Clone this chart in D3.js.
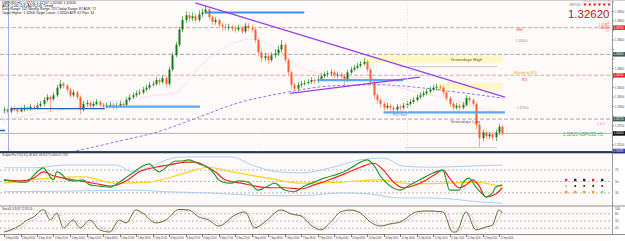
<!DOCTYPE html>
<html><head><meta charset="utf-8">
<script src="https://cdn.jsdelivr.net/npm/d3@7"></script>
<style>html,body{margin:0;padding:0;background:#fff;overflow:hidden}svg{display:block}</style>
</head><body><svg id="c" width="625" height="241"></svg>
<script>
// ---------------- DATA ----------------
const opens=[1.3286,
1.3287,1.3285,1.3288,1.3287,1.3285,1.3287,1.3289,1.3288,1.3290,
1.3289,1.3291,1.3293,1.3297,1.3300,1.3298,1.3302,1.3310,1.3314,1.3312,
1.3308,1.3302,1.3305,1.3300,1.3287,1.3293,1.3294,1.3291,1.3293,1.3295,
1.3292,1.3290,1.3291,1.3292,1.3290,1.3291,1.3293,1.3292,1.3297,1.3300,
1.3302,1.3304,1.3305,1.3308,1.3310,1.3313,1.3314,1.3318,1.3316,1.3320,
1.3314,1.3329,1.3344,1.3355,1.3371,1.3381,1.3386,1.3383,1.3385,1.3381,
1.3387,1.3389,1.3392,1.3384,1.3379,1.3381,1.3376,1.3374,1.3373,1.3374,
1.3372,1.3371,1.3373,1.3369,1.3375,1.3373,1.3371,1.3360,1.3347,1.3341,
1.3343,1.3339,1.3344,1.3346,1.3350,1.3355,1.3339,1.3326,1.3313,1.3309,
1.3313,1.3314,1.3315,1.3316,1.3318,1.3317,1.3319,1.3322,1.3324,1.3325,
1.3326,1.3323,1.3324,1.3322,1.3318,1.3326,1.3329,1.3331,1.3333,1.3335,
1.3337,1.3329,1.3316,1.3302,1.3297,1.3293,1.3289,1.3291,1.3289,1.3287,
1.3290,1.3289,1.3291,1.3293,1.3295,1.3297,1.3300,1.3302,1.3304,1.3306,
1.3308,1.3310,1.3311,1.3310,1.3305,1.3299,1.3293,1.3289,1.3291,1.3289,
1.3292,1.3299,1.3297,1.3293,1.3271,1.3257,1.3263,1.3259,1.3261,1.3258,
1.3263,1.3269];
const closes=[
1.3287,1.3285,1.3288,1.3287,1.3285,1.3287,1.3289,1.3288,1.3290,1.3289,
1.3291,1.3293,1.3297,1.3300,1.3298,1.3302,1.3310,1.3314,1.3312,1.3308,
1.3302,1.3305,1.3300,1.3287,1.3293,1.3294,1.3291,1.3293,1.3295,1.3292,
1.3290,1.3291,1.3292,1.3290,1.3291,1.3293,1.3292,1.3297,1.3300,1.3302,
1.3304,1.3305,1.3308,1.3310,1.3313,1.3314,1.3318,1.3316,1.3320,1.3314,
1.3329,1.3344,1.3355,1.3371,1.3381,1.3386,1.3383,1.3385,1.3381,1.3387,
1.3389,1.3392,1.3384,1.3379,1.3381,1.3376,1.3374,1.3373,1.3374,1.3372,
1.3371,1.3373,1.3369,1.3375,1.3373,1.3371,1.3360,1.3347,1.3341,1.3343,
1.3339,1.3344,1.3346,1.3350,1.3355,1.3339,1.3326,1.3313,1.3309,1.3313,
1.3314,1.3315,1.3316,1.3318,1.3317,1.3319,1.3322,1.3324,1.3325,1.3326,
1.3323,1.3324,1.3322,1.3318,1.3326,1.3329,1.3331,1.3333,1.3335,1.3337,
1.3329,1.3316,1.3302,1.3297,1.3293,1.3289,1.3291,1.3289,1.3287,1.3290,
1.3289,1.3291,1.3293,1.3295,1.3297,1.3300,1.3302,1.3304,1.3306,1.3308,
1.3310,1.3311,1.3310,1.3305,1.3299,1.3293,1.3289,1.3291,1.3289,1.3292,
1.3299,1.3297,1.3293,1.3271,1.3257,1.3263,1.3259,1.3261,1.3258,1.3263,
1.3269,1.3262];
const highs=[
1.3290,1.3289,1.3290,1.3291,1.3289,1.3290,1.3292,1.3291,1.3293,1.3292,
1.3294,1.3296,1.3300,1.3303,1.3302,1.3305,1.3313,1.3318,1.3316,1.3314,
1.3310,1.3308,1.3307,1.3302,1.3296,1.3297,1.3296,1.3296,1.3298,1.3297,
1.3294,1.3294,1.3295,1.3294,1.3294,1.3296,1.3295,1.3300,1.3303,1.3305,
1.3307,1.3308,1.3311,1.3313,1.3316,1.3317,1.3321,1.3320,1.3323,1.3322,
1.3332,1.3347,1.3358,1.3374,1.3385,1.3390,1.3389,1.3389,1.3388,1.3391,
1.3393,1.3396,1.3394,1.3386,1.3384,1.3383,1.3378,1.3377,1.3377,1.3376,
1.3375,1.3376,1.3375,1.3378,1.3378,1.3376,1.3373,1.3362,1.3350,1.3347,
1.3346,1.3347,1.3350,1.3354,1.3360,1.3357,1.3341,1.3328,1.3315,1.3316,
1.3317,1.3318,1.3319,1.3321,1.3320,1.3322,1.3325,1.3327,1.3328,1.3329,
1.3328,1.3327,1.3326,1.3324,1.3329,1.3332,1.3334,1.3336,1.3338,1.3341,
1.3339,1.3331,1.3318,1.3304,1.3299,1.3295,1.3294,1.3293,1.3291,1.3293,
1.3292,1.3294,1.3296,1.3298,1.3300,1.3303,1.3305,1.3307,1.3309,1.3311,
1.3313,1.3314,1.3313,1.3312,1.3307,1.3301,1.3295,1.3294,1.3293,1.3295,
1.3302,1.3301,1.3299,1.3295,1.3273,1.3266,1.3265,1.3264,1.3263,1.3266,
1.3272,1.3271];
const lows=[
1.3283,1.3283,1.3283,1.3285,1.3282,1.3284,1.3285,1.3286,1.3286,1.3287,
1.3287,1.3289,1.3290,1.3295,1.3285,1.3296,1.3300,1.3308,1.3309,1.3305,
1.3299,1.3300,1.3297,1.3282,1.3285,1.3290,1.3288,1.3289,1.3291,1.3289,
1.3287,1.3288,1.3289,1.3287,1.3288,1.3289,1.3289,1.3290,1.3295,1.3298,
1.3300,1.3302,1.3303,1.3306,1.3308,1.3311,1.3312,1.3313,1.3314,1.3311,
1.3312,1.3327,1.3342,1.3353,1.3368,1.3378,1.3379,1.3380,1.3378,1.3379,
1.3384,1.3387,1.3381,1.3376,1.3376,1.3373,1.3370,1.3370,1.3370,1.3369,
1.3368,1.3369,1.3366,1.3367,1.3370,1.3368,1.3357,1.3343,1.3337,1.3338,
1.3335,1.3337,1.3341,1.3343,1.3347,1.3336,1.3322,1.3309,1.3305,1.3306,
1.3310,1.3312,1.3313,1.3314,1.3314,1.3315,1.3317,1.3320,1.3321,1.3322,
1.3320,1.3320,1.3318,1.3313,1.3316,1.3324,1.3327,1.3329,1.3331,1.3333,
1.3326,1.3312,1.3298,1.3293,1.3289,1.3286,1.3287,1.3286,1.3284,1.3285,
1.3286,1.3287,1.3289,1.3291,1.3293,1.3295,1.3298,1.3300,1.3302,1.3304,
1.3306,1.3307,1.3307,1.3302,1.3296,1.3290,1.3286,1.3287,1.3286,1.3287,
1.3290,1.3294,1.3290,1.3266,1.3248,1.3254,1.3256,1.3256,1.3255,1.3254,
1.3260,1.3260];

// moving averages on the price panel (bar index, price)
const slowMAIdx=[10,21,35,47,59,71,84,100,114,126,138,151];
const slowMAVal=[1.3236,1.3243,1.3254,1.3264,1.3279,1.3294,1.3304,1.3312,1.3313,1.3310,1.3305,1.3299];
const midMAIdx=[0,14,29,44,52,56,59,65,75,79,84,90,102,111,120,132,151];
const midMAVal=[1.3276,1.3285,1.3293,1.3301,1.3305,1.3318,1.3331,1.3348,1.3361,1.3358,1.3346,1.3331,1.3322,1.3320,1.3310,1.3300,1.3283];

// trend lines (bar index, price)
const trendUpperIdx=[58,151.8], trendUpperVal=[1.3399,1.3300];
const trendLowerIdx=[86.7,126], trendLowerVal=[1.3304,1.3321];

// support / resistance segments
const srStart=[2,31,61,95,115,-1.2];
const srEnd=[30.6,59.4,91,121,151.8,0.3];
const srPrice=[1.3288,1.3290,1.3389,1.3318,1.3284,1.3265];

// full-width levels
const pivotLevels=[1.3373,1.3323];
const dayLevels=[1.3345,1.3277];
const bidPrice=1.3262;
const lowLevel=1.32435;

// zones
const zoneStart=[109.4,131.2], zoneEnd=[151.2,151.2];
const zoneTop=[1.3344,1.3315], zoneBottom=[1.3336,1.3308];

// price axis ticks
const priceTicks=d3.range(1.3250,1.34005,0.001);

// Indicator 1 (panel 2)
const fastIdx=[0,2,5,7,9,12,13,15,16,18,19,21,24,26,29,32,35,39,42,44,46,47,50,52,54,56,59,62,64,65,68,69,71,74,77,79,82,85,88,91,94,97,100,103,106,108,110,112,114,117,120,123,126,130,133,134,135,138,139,141,142,143,145,146,148,149,151];
const fastVal=[53,51,49,49,61,74,67,53,67,60,53,51,53,44,42,40,49,65,77,81,70,67,79,86,86,88,81,74,61,53,47,47,51,49,35,39,47,35,32,42,49,56,61,67,77,84,88,79,60,42,35,44,53,65,70,53,35,35,47,56,49,40,28,23,30,40,44];
const slowIdx=[0,5,9,12,15,18,23,28,32,37,41,46,50,55,58,61,64,67,72,76,81,85,90,94,99,103,108,112,115,118,121,126,130,133,135,138,140,142,144,146,149,151];
const slowVal=[53,51,56,67,60,56,51,46,42,51,67,75,79,84,84,77,67,53,47,42,39,39,37,44,54,63,75,82,70,49,39,47,60,70,56,39,44,53,42,23,28,39];
const trendIdx=[0,14,24,34,44,55,62,69,80,90,102,114,123,135,143,151];
const trendVal=[47,56,58,47,49,65,75,67,56,47,49,53,46,47,49,40];
const bandUpIdx=[0,9,19,34,39,44,51,55,69,75,83,90,99,108,115,121,129,141,151];
const bandUpVal=[74,74,79,79,67,75,91,93,93,79,67,65,74,88,91,77,75,77,79];
const bandLoIdx=[0,19,39,49,62,75,84,93,102,111,120,130,145,151];
const bandLoVal=[32,33,35,32,30,26,25,26,30,28,21,21,14,12];
const osc1Levels=[70,50,30];

// Indicator 2 (panel 3)
const stochIdx=[0,2,5,7,9,12,14,16,18,21,23,26,29,32,35,37,40,42,46,49,53,56,59,62,65,70,73,76,79,84,87,90,93,96,99,102,105,108,111,114,117,120,125,128,133,136,137,140,143,146,148,150,151];
const stochVal=[4,13,33,54,67,98,54,83,21,54,21,54,13,4,54,42,96,83,42,54,98,96,67,54,29,75,88,21,46,96,79,71,33,13,46,88,96,83,46,29,38,46,88,92,88,4,4,88,13,25,33,96,83];
const signalIdx=[1,3,6,8,10,13,15,17,19,22,24,27,30,33,36,38,41,43,47,50,54,57,60,63,66,71,74,77,80,85,88,91,94,97,100,103,106,109,112,115,118,121,126,129,134,137,138,141,144,147,149,151];
const signalVal=[6,12,30,50,62,88,62,75,30,48,26,48,18,8,46,44,88,80,45,55,92,92,70,55,32,70,82,28,44,90,78,68,36,16,42,82,92,80,48,32,38,46,84,90,84,10,8,80,18,26,40,88];
const osc2Levels=[80,50,20];

// time axis
const timeLabels=["4 Sep 2018","4 Sep 05:00","4 Sep 10:00","4 Sep 15:00","4 Sep 20:00","5 Sep 01:00","5 Sep 06:00","5 Sep 11:00","5 Sep 16:00","5 Sep 21:00","6 Sep 02:00","6 Sep 07:00","6 Sep 12:00","6 Sep 17:00","6 Sep 22:00","7 Sep 03:00","7 Sep 08:00","7 Sep 13:00","7 Sep 18:00","7 Sep 23:00","10 Sep 04:00","10 Sep 09:00","10 Sep 14:00","10 Sep 19:00","11 Sep 00:00","11 Sep 05:00","11 Sep 10:00","11 Sep 15:00","11 Sep 20:00","12 Sep 01:00","12 Sep 06:00"];
const labelEvery=5;

// dashboard signals
const sigRow1=["sell","flat","flat","sell","flat"];
const sigRow2=["none","flat","flat","flat","flat"];
const sigRow3=["weak","weak","weak","weak","strong"];
const tfNames=["M5","M15","M30","H1","H4","D1"];

const infoLines=["GBPUSD,H1  1.32702 1.32707 1.32582 1.32620",
"ADX 1.00 (14)  ADX(14) Trend",
"Daily Range: 102  Weekly Range: 231  Today Range: 87  ADR: 71",
"Target Higher: 1.32800  Target Lower: 1.32500  ATR: 62  Pips: 34"];

// ---------------- DRAW ----------------
const FONT="Liberation Sans, Arial, sans-serif";
const PR=612;
const svg=d3.select("#c");
const x=d3.scaleLinear().domain([0,151]).range([4,502.3]);
const y=d3.scaleLinear().domain([lowLevel,1.3402]).range([151,0]);
const y2=d3.scaleLinear().domain([0,100]).range([210,153]);
const y3=d3.scaleLinear().domain([0,100]).range([233,209]);

svg.append("rect").attr("width",625).attr("height",241).attr("fill","#fffafa");
svg.append("rect").attr("x",PR).attr("width",13).attr("height",241).attr("fill","#ffffff");

const defs=svg.append("defs");
function clip(id,yy,h){defs.append("clipPath").attr("id",id).append("rect").attr("x",0).attr("y",yy).attr("width",PR).attr("height",h);}
clip("cm",0,151.5);clip("c2",153,52);clip("c3",207,27);
const gM=svg.append("g").attr("clip-path","url(#cm)");
const g2=svg.append("g").attr("clip-path","url(#c2)");
const g3=svg.append("g").attr("clip-path","url(#c3)");

// zones
gM.selectAll(".zone").data(zoneStart).join("rect")
 .attr("x",(d,k)=>x(d)).attr("width",(d,k)=>x(zoneEnd[k])-x(d))
 .attr("y",(d,k)=>y(zoneTop[k])).attr("height",(d,k)=>y(zoneBottom[k])-y(zoneTop[k]))
 .attr("fill","#fff7c4");

// vertical separators
gM.append("line").attr("x1",8.5).attr("x2",8.5).attr("y1",0).attr("y2",151).attr("stroke","#9fb1e3").attr("stroke-width",1);
svg.append("line").attr("x1",407.5).attr("x2",407.5).attr("y1",0).attr("y2",151).attr("stroke","#e4dede").attr("stroke-dasharray","1,2");

// full width levels
pivotLevels.forEach(p=>gM.append("line").attr("x1",0).attr("x2",PR).attr("y1",y(p)).attr("y2",y(p)).attr("stroke","#f59a9a").attr("stroke-dasharray","4,2").attr("stroke-width",1));
dayLevels.forEach(p=>gM.append("line").attr("x1",0).attr("x2",PR).attr("y1",y(p)).attr("y2",y(p)).attr("stroke","#a8a8a8").attr("stroke-dasharray","4,2").attr("stroke-width",1));
gM.append("line").attr("x1",0).attr("x2",PR).attr("y1",y(bidPrice)).attr("y2",y(bidPrice)).attr("stroke","#b4b4b4").attr("stroke-width",1);
gM.append("line").attr("x1",x(120)).attr("x2",x(149.4)).attr("y1",y(1.3332)).attr("y2",y(1.3332)).attr("stroke","#c8c8c8");
gM.append("line").attr("x1",x(121.5)).attr("x2",x(149.4)).attr("y1",y(1.3247)).attr("y2",y(1.3247)).attr("stroke","#9be79b");

// moving averages
const line=(ix,vals,sc)=>d3.line().x((d,k)=>x(ix[k])).y((d,k)=>sc(vals[k])).curve(d3.curveMonotoneX)(ix);
gM.append("path").attr("d",line(slowMAIdx,slowMAVal,y)).attr("fill","none").attr("stroke","#7c7cf5").attr("stroke-width",1).attr("stroke-dasharray","3,2");
gM.append("path").attr("d",line(midMAIdx,midMAVal,y)).attr("fill","none").attr("stroke","#ffb6cc").attr("stroke-width",1).attr("stroke-dasharray","1,1.5");

// candles
const idx=d3.range(closes.length);
gM.selectAll(".wick").data(idx).join("line")
 .attr("x1",i=>Math.round(x(i))+0.5).attr("x2",i=>Math.round(x(i))+0.5)
 .attr("y1",i=>y(highs[i])).attr("y2",i=>y(lows[i]))
 .attr("stroke",i=>closes[i]>=opens[i]?"#5fb85f":"#ffa58a").attr("stroke-width",1);
gM.selectAll(".body").data(idx).join("rect")
 .attr("x",i=>Math.round(x(i))-0.5).attr("width",2)
 .attr("y",i=>y(Math.max(opens[i],closes[i])))
 .attr("height",i=>Math.max(1,Math.abs(y(opens[i])-y(closes[i]))))
 .attr("fill",i=>closes[i]>=opens[i]?"#1d761d":"#ff5c26");

// support/resistance segments
const srColor=["#1f5fbf","#5aa8ef","#3b8fe8","#5aa8ef","#5aa8ef","#1f5fbf"];
const srWidth=[1.2,2.2,2,2.2,2.2,1.5];
srStart.forEach((s,k)=>gM.append("line").attr("x1",x(s)).attr("x2",x(srEnd[k])).attr("y1",y(srPrice[k])).attr("y2",y(srPrice[k])).attr("stroke",srColor[k]).attr("stroke-width",srWidth[k]));

// trend lines
gM.append("line").attr("x1",x(trendUpperIdx[0])).attr("y1",y(trendUpperVal[0])).attr("x2",x(trendUpperIdx[1])).attr("y2",y(trendUpperVal[1])).attr("stroke","#9b3dea").attr("stroke-width",1.2);
gM.append("line").attr("x1",x(trendLowerIdx[0])).attr("y1",y(trendLowerVal[0])).attr("x2",x(trendLowerIdx[1])).attr("y2",y(trendLowerVal[1])).attr("stroke","#9b3dea").attr("stroke-width",1.2);

// low level line
svg.append("line").attr("x1",0).attr("x2",PR).attr("y1",y(lowLevel)+0.5).attr("y2",y(lowLevel)+0.5).attr("stroke","#3b3bb8").attr("stroke-width",1);

// texts
const T=(g,tx,xx,yy,sz,fill,len,anchor)=>{const t=g.append("text").attr("x",xx).attr("y",yy).attr("font-size",sz).attr("font-family",FONT).attr("fill",fill).text(tx);if(len)t.attr("textLength",len).attr("lengthAdjust","spacingAndGlyphs");if(anchor)t.attr("text-anchor",anchor);return t;};
const infoY=[3.6,6.8,10.2,13.6], infoLen=[74,51,94,92];
infoLines.forEach((s,k)=>T(svg,s,2,infoY[k],3.2,"#222",infoLen[k]));
T(svg,"Yesterdays High",x(135.2),y(1.3339)+1.2,3.3,"#555",32);
T(svg,"Yesterdays Low",x(135.2),y(1.3276)+2.6,3.3,"#555",30);
T(svg,"1.33600",x(155),y(1.3360)+1.5,3.2,"#999",12);
T(svg,"1.32900",x(155.3),y(1.3289)+1,3.2,"#999",12);
T(svg,"H3",x(155.3),y(1.3370)+1,4,"#ff3030",6);
T(svg,"Weekly R1",x(154.3),y(1.3325)+1,3.5,"#ff9a2e",24);
T(svg,"R3",x(157),y(1.3319)+1.5,3.5,"#ff3030",5);
T(svg,"POC Start",x(122),y(1.3281)+1,3,"#3b7fd8",null,"end");
T(svg,"GBPUSD",581,6.2,3.4,"#888",12,"end");
T(svg,"1.32620",609.5,18,11.5,"#b5181e",null,"end");
T(svg,"1:2",609.5,23.6,2.6,"#ff9a2e",null,"end");
T(svg,"1.33361",609.5,26.4,2.6,"#ff6a3a",11,"end");
T(svg,"1.33355",609.5,29.2,2.6,"#ff3838",11,"end");
T(svg,"0:1",609.5,32.4,2.6,"#ff9a2e",null,"end");
T(svg,"LbC",606,124.5,4,"#ff8fc8",9,"end");
T(svg,"1.32620 GBPUSD H1",563,135.5,5,"#4aae4a",40);

// timeframe arrows at top right
const sym=d3.symbol().type(d3.symbolTriangle).size(5);
tfNames.forEach((n,k)=>{
 svg.append("path").attr("d",sym()).attr("transform",`translate(${585+4.8*k},4.4) rotate(180)`).attr("fill","#e02020");
 T(svg,n,585+4.8*k,2,1.6,"#999",3.2,"middle");
});

// price axis
svg.append("line").attr("x1",PR+0.5).attr("x2",PR+0.5).attr("y1",0).attr("y2",234).attr("stroke","#9a9a9a");
const tagPrices=[...pivotLevels,...dayLevels,bidPrice,lowLevel];
priceTicks.forEach(p=>{
 const yy=y(p);
 svg.append("line").attr("x1",PR).attr("x2",PR+2).attr("y1",yy).attr("y2",yy).attr("stroke","#888");
 if(yy<4||tagPrices.some(t=>Math.abs(y(t)-yy)<5))return;
 T(svg,p.toFixed(5),614.8,yy+1.2,3,"#444",9.4);
});
function tag(p,col){const yy=y(p);svg.append("rect").attr("x",PR+1).attr("y",yy-2.3).attr("width",12).attr("height",4.6).attr("fill",col);T(svg,p.toFixed(5),PR+1.8,yy+1.1,3,"#fff",9.8);}
pivotLevels.forEach(p=>tag(p,"#e8262b"));
dayLevels.forEach(p=>tag(p,"#3e5c5c"));
tag(bidPrice,"#111");
tag(lowLevel,"#3b3bc8");

// panel separators
svg.append("line").attr("x1",0).attr("x2",625).attr("y1",152.5).attr("y2",152.5).attr("stroke","#24395a").attr("stroke-width",1.5);
svg.append("line").attr("x1",0).attr("x2",625).attr("y1",206).attr("y2",206).attr("stroke","#8c8c8c").attr("stroke-width",1.2);
svg.append("line").attr("x1",0).attr("x2",625).attr("y1",234.5).attr("y2",234.5).attr("stroke","#8c8c8c").attr("stroke-width",1);
svg.append("line").attr("x1",0).attr("x2",625).attr("y1",0.5).attr("y2",0.5).attr("stroke","#cfcfcf");

// panel 2
osc1Levels.forEach(v=>{g2.append("line").attr("x1",0).attr("x2",PR).attr("y1",y2(v)).attr("y2",y2(v)).attr("stroke","#b8b8b8").attr("stroke-dasharray","2,2");
 T(svg,String(v),615,y2(v)+1.2,3,"#444");});
g2.append("path").attr("d",line(bandUpIdx,bandUpVal,y2)).attr("fill","none").attr("stroke","#a6d0f2").attr("stroke-width",1);
g2.append("path").attr("d",line(bandLoIdx,bandLoVal,y2)).attr("fill","none").attr("stroke","#a6d0f2").attr("stroke-width",1);
g2.append("path").attr("d",line(trendIdx,trendVal,y2)).attr("fill","none").attr("stroke","#ffd21f").attr("stroke-width",1.2);
g2.append("path").attr("d",line(slowIdx,slowVal,y2)).attr("fill","none").attr("stroke","#ff1f1f").attr("stroke-width",1.2);
g2.append("path").attr("d",line(fastIdx,fastVal,y2)).attr("fill","none").attr("stroke","#2a9a2a").attr("stroke-width",1.2);
T(svg,"Scalper Pro TO(3,3,5) 48.3617 48.6517 0.0000 47.2782",2,156.3,3,"#333",66);
const c1={sell:"#e53030",flat:"#222"}, c3={weak:"#ff9a1a",strong:"#8bd45a"};
sigRow1.forEach((s,k)=>svg.append("rect").attr("x",565+9*k).attr("y",178.8).attr("width",2.4).attr("height",2.4).attr("fill",c1[s]));
sigRow2.forEach((s,k)=>svg.append("circle").attr("cx",566.2+9*k).attr("cy",186).attr("r",1).attr("fill",s==="none"?"#aaa":"#222"));
sigRow3.forEach((s,k)=>svg.append("rect").attr("x",565+9*k).attr("y",190.8).attr("width",2.4).attr("height",2.4).attr("fill",c3[s]));

// panel 3
osc2Levels.forEach(v=>{g3.append("line").attr("x1",0).attr("x2",PR).attr("y1",y3(v)).attr("y2",y3(v)).attr("stroke","#b8b8b8").attr("stroke-dasharray","2,2");
 T(svg,String(v),615,y3(v)+1.2,3,"#444");});
T(svg,"100",615,210,3,"#444");
g3.append("path").attr("d",line(signalIdx,signalVal,y3)).attr("fill","none").attr("stroke","#f2a0bd").attr("stroke-width",1).attr("stroke-dasharray","1,1");
g3.append("path").attr("d",line(stochIdx,stochVal,y3)).attr("fill","none").attr("stroke","#4d7a2a").attr("stroke-width",1);
T(svg,"Stoch(5,3,3) 87.72 85.53",2,210.3,3,"#333",30);

// time axis
timeLabels.forEach((s,k)=>{
 const xx=x(k*labelEvery);
 svg.append("line").attr("x1",Math.round(xx)+0.5).attr("x2",Math.round(xx)+0.5).attr("y1",234).attr("y2",237).attr("stroke","#777");
 T(svg,s,xx+1.5,239,2.7,"#333",13);
});
</script></body></html>
